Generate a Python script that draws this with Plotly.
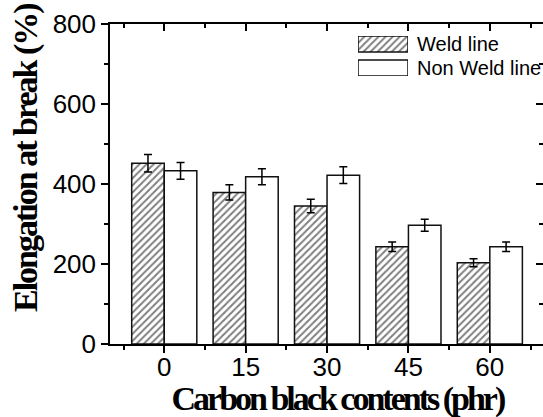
import plotly.graph_objects as go

# Elongation at break vs carbon black loading, weld-line vs non-weld-line specimens
cb_contents = [0, 15, 30, 45, 60]            # phr
weld_elong = [452, 379, 345, 243, 203]       # %
weld_err = [22, 19, 17, 12, 10]
nonweld_elong = [433, 418, 422, 297, 243]    # %
nonweld_err = [21, 20, 21, 15, 12]
tick_labels = ["0", "15", "30", "45", "60"]
series_names = ["Weld line", "Non Weld line"]

W, H = 543, 417
ML, MR, MT, MB = 110, 0, 24, 73
PW, PH = W - ML - MR, H - MT - MB

X_RANGE = [-10, 69.8]
Y_RANGE = [0, 800]

TICK_FONT = dict(family="Liberation Sans, Arial, sans-serif", size=26, color="black")
TITLE_FONT = dict(family="Liberation Serif, Times New Roman, serif", size=34,
                  color="black", weight="bold")
LINE_W = 1.5


def px_to_xpaper(px):
    return (px - ML) / PW


def px_to_ypaper(py):
    return (MT + PH - py) / PH


bar_line = dict(color="#111", width=LINE_W)
err_style = dict(type="data", visible=True, color="black", thickness=1.5, width=4)
hatch = dict(fgcolor="black", bgcolor="white", size=5, solidity=0.4)

fig = go.Figure()

fig.add_trace(go.Bar(
    x=cb_contents, y=weld_elong, name=series_names[0],
    error_y=dict(array=weld_err, **err_style),
    marker=dict(color="white", line=bar_line, pattern=dict(shape="/", **hatch)),
    showlegend=False,
))
fig.add_trace(go.Bar(
    x=cb_contents, y=nonweld_elong, name=series_names[1],
    error_y=dict(array=nonweld_err, **err_style),
    marker=dict(color="white", line=bar_line),
    showlegend=False,
))

# Legend swatches drawn on a small hidden axis pair in the upper right
fig.add_trace(go.Bar(
    x=[0.5, 0.5], y=[16, 16], base=[24, 0], width=[1, 1],
    xaxis="x3", yaxis="y3", showlegend=False, hoverinfo="skip",
    marker=dict(color="white", line=bar_line, pattern=dict(shape=["/", ""], **hatch)),
))

axis_common = dict(showgrid=False, zeroline=False, linecolor="black",
                   linewidth=LINE_W, tickcolor="black", tickwidth=LINE_W)

fig.update_layout(
    width=W, height=H,
    margin=dict(l=ML, r=MR, t=MT, b=MB, pad=0),
    paper_bgcolor="white", plot_bgcolor="white",
    barmode="group", bargap=0.2, bargroupgap=0,
    xaxis=dict(range=X_RANGE, tickvals=cb_contents, ticktext=tick_labels,
               ticks="outside", ticklen=7, showline=True, tickfont=TICK_FONT,
               ticklabelstandoff=-8,
               minor=dict(ticks="outside", ticklen=4, dtick=7.5, tick0=0,
                          tickcolor="black", tickwidth=LINE_W),
               **axis_common),
    yaxis=dict(range=Y_RANGE, tickvals=[0, 200, 400, 600, 800],
               ticks="outside", ticklen=7, showline=True, tickfont=TICK_FONT,
               minor=dict(ticks="outside", ticklen=4, dtick=100, tick0=0,
                          tickcolor="black", tickwidth=LINE_W),
               **axis_common),
    # mirrored frame on top / right with inward ticks
    xaxis2=dict(range=X_RANGE, overlaying="x", side="top", tickvals=cb_contents,
                ticks="inside", ticklen=7, showticklabels=False, showline=True,
                minor=dict(ticks="inside", ticklen=4, dtick=7.5, tick0=0,
                           tickcolor="black", tickwidth=LINE_W),
                **axis_common),
    yaxis2=dict(range=Y_RANGE, overlaying="y", side="right",
                tickvals=[0, 200, 400, 600, 800],
                ticks="inside", ticklen=7, showticklabels=False, showline=False,
                minor=dict(ticks="inside", ticklen=4, dtick=100, tick0=0,
                           tickcolor="black", tickwidth=LINE_W),
                **axis_common),
    xaxis3=dict(domain=[px_to_xpaper(358), px_to_xpaper(408)], range=[0, 1],
                visible=False, anchor="y3"),
    yaxis3=dict(domain=[px_to_ypaper(76), px_to_ypaper(36)], range=[0, 40],
                visible=False, anchor="x3"),
)

# Invisible helper trace so the mirrored axes are rendered
fig.add_trace(go.Scatter(x=[X_RANGE[0]], y=[Y_RANGE[0]], xaxis="x2", yaxis="y2",
                         mode="markers", marker=dict(opacity=0),
                         showlegend=False, hoverinfo="skip"))

LEGEND_FONT = dict(family="Liberation Sans, Arial, sans-serif", size=20, color="black")
annotations = [
    dict(text=series_names[0], x=px_to_xpaper(415), y=px_to_ypaper(44),
         xanchor="left", yanchor="middle", font=LEGEND_FONT),
    dict(text=series_names[1], x=px_to_xpaper(415), y=px_to_ypaper(68),
         xanchor="left", yanchor="middle", font=LEGEND_FONT),
    dict(text="Carbon black contents (phr)", x=px_to_xpaper(337), y=px_to_ypaper(399),
         xanchor="center", yanchor="middle", font=TITLE_FONT),
    dict(text="Elongation at break (%)", x=px_to_xpaper(26), y=px_to_ypaper(158),
         xanchor="center", yanchor="middle", textangle=-90, font=TITLE_FONT),
]
for a in annotations:
    a.update(xref="paper", yref="paper", showarrow=False)
fig.update_layout(annotations=annotations)

# Tighten the letter spacing of the bold axis titles
post_js = """
var gd = document.getElementById('{plot_id}');
gd.querySelectorAll('text.annotation-text').forEach(function(t){
  var s = t.textContent;
  if (s.indexOf('Carbon') === 0) { t.style.letterSpacing = '-3px'; }
  else if (s.indexOf('Elongation') === 0) { t.style.letterSpacing = '-2px'; }
});
"""

fig.write_html("out.html", config={"displayModeBar": False}, post_script=post_js)
